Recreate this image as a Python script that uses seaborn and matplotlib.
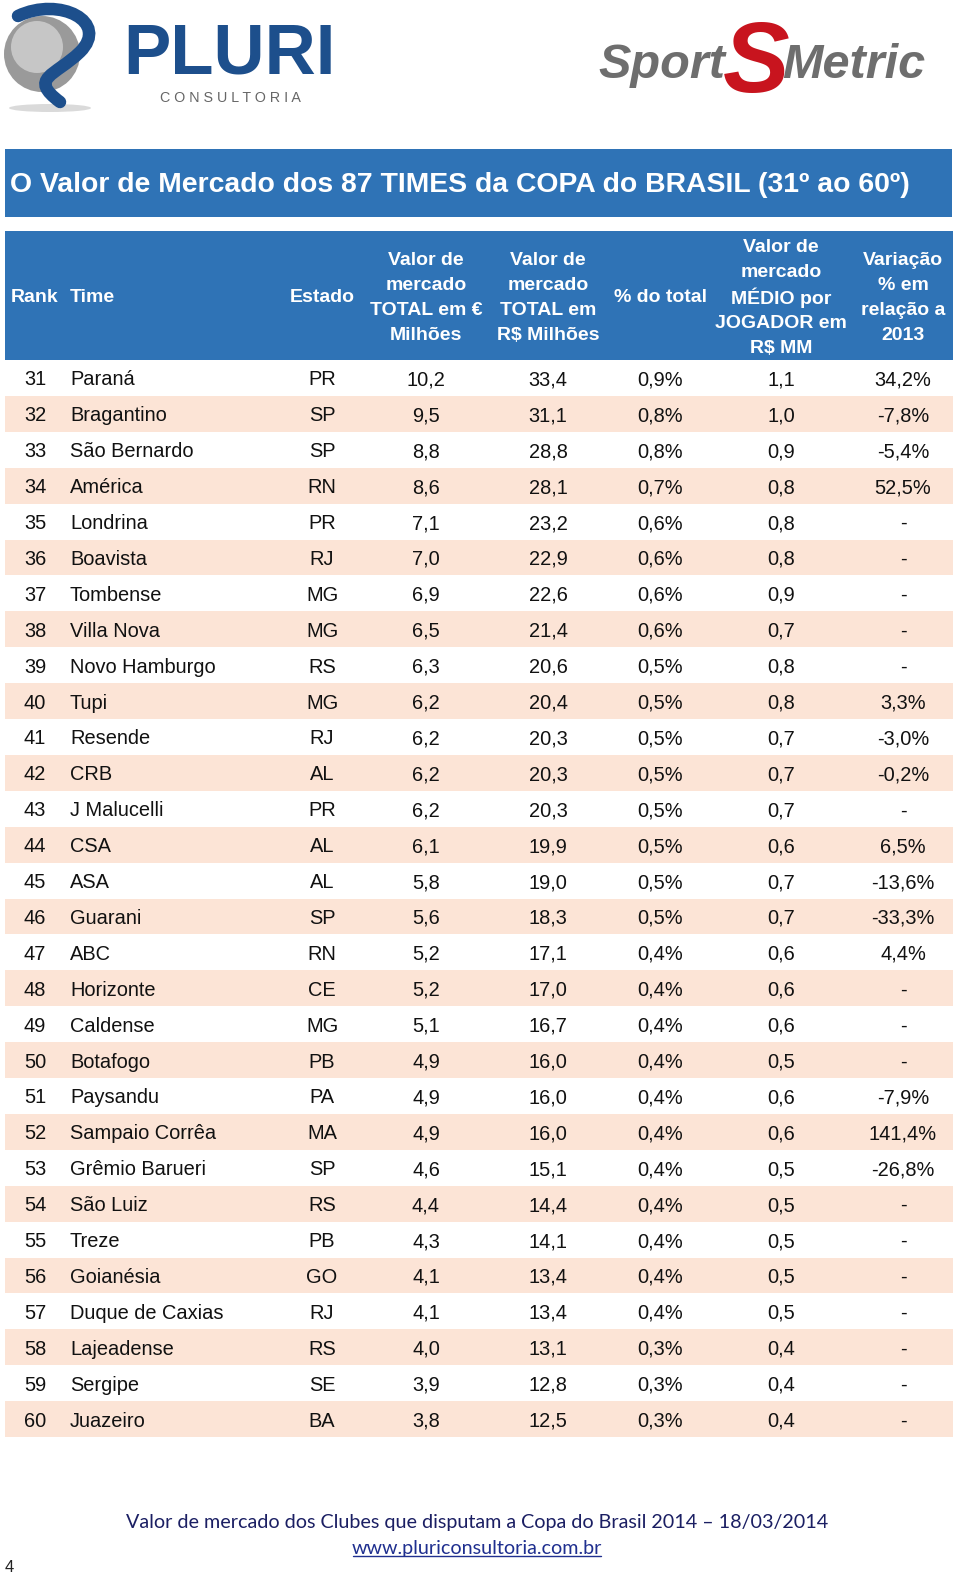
import numpy as np
import pandas as pd
import matplotlib
matplotlib.use("Agg")
import matplotlib.pyplot as plt
import matplotlib.transforms as mtransforms
from matplotlib.patches import Rectangle, Circle, Ellipse, PathPatch
from matplotlib.path import Path
from matplotlib.colors import ListedColormap
import seaborn as sns

# ---------------- data ----------------
ranks = list(range(31, 61))
teams = ["Paraná", "Bragantino", "São Bernardo", "América", "Londrina", "Boavista",
         "Tombense", "Villa Nova", "Novo Hamburgo", "Tupi", "Resende", "CRB",
         "J Malucelli", "CSA", "ASA", "Guarani", "ABC", "Horizonte", "Caldense",
         "Botafogo", "Paysandu", "Sampaio Corrêa", "Grêmio Barueri", "São Luiz",
         "Treze", "Goianésia", "Duque de Caxias", "Lajeadense", "Sergipe", "Juazeiro"]
states = ["PR", "SP", "SP", "RN", "PR", "RJ", "MG", "MG", "RS", "MG", "RJ", "AL",
          "PR", "AL", "AL", "SP", "RN", "CE", "MG", "PB", "PA", "MA", "SP", "RS",
          "PB", "GO", "RJ", "RS", "SE", "BA"]
value_eur = [10.2, 9.5, 8.8, 8.6, 7.1, 7.0, 6.9, 6.5, 6.3, 6.2, 6.2, 6.2, 6.2, 6.1,
             5.8, 5.6, 5.2, 5.2, 5.1, 4.9, 4.9, 4.9, 4.6, 4.4, 4.3, 4.1, 4.1, 4.0,
             3.9, 3.8]
value_brl = [33.4, 31.1, 28.8, 28.1, 23.2, 22.9, 22.6, 21.4, 20.6, 20.4, 20.3, 20.3,
             20.3, 19.9, 19.0, 18.3, 17.1, 17.0, 16.7, 16.0, 16.0, 16.0, 15.1, 14.4,
             14.1, 13.4, 13.4, 13.1, 12.8, 12.5]
pct_total = [0.9, 0.8, 0.8, 0.7, 0.6, 0.6, 0.6, 0.6, 0.5, 0.5, 0.5, 0.5, 0.5, 0.5,
             0.5, 0.5, 0.4, 0.4, 0.4, 0.4, 0.4, 0.4, 0.4, 0.4, 0.4, 0.4, 0.4, 0.3,
             0.3, 0.3]
avg_player = [1.1, 1.0, 0.9, 0.8, 0.8, 0.8, 0.9, 0.7, 0.8, 0.8, 0.7, 0.7, 0.7, 0.6,
              0.7, 0.7, 0.6, 0.6, 0.6, 0.5, 0.6, 0.6, 0.5, 0.5, 0.5, 0.5, 0.5, 0.4,
              0.4, 0.4]
var_2013 = [34.2, -7.8, -5.4, 52.5, None, None, None, None, None, 3.3, -3.0, -0.2,
            None, 6.5, -13.6, -33.3, 4.4, None, None, None, -7.9, 141.4, -26.8,
            None, None, None, None, None, None, None]

title = "O Valor de Mercado dos 87 TIMES da COPA do BRASIL (31º ao 60º)"
headers = [["Rank"], ["Time"], ["Estado"],
           ["Valor de", "mercado", "TOTAL em €", "Milhões"],
           ["Valor de", "mercado", "TOTAL em", "R$ Milhões"],
           ["% do total"],
           ["Valor de", "mercado", "MÉDIO por", "JOGADOR em", "R$ MM"],
           ["Variação", "% em", "relação a", "2013"]]
footer_line1 = "Valor de mercado dos Clubes que disputam a Copa do Brasil 2014 – 18/03/2014"
footer_line2 = "www.pluriconsultoria.com.br"
page_number = "4"

def fmt(v, pct=False):
    if v is None:
        return "-"
    s = f"{v:.1f}".replace(".", ",")
    return s + ("%" if pct else "")

df = pd.DataFrame({
    "Rank": [str(r) for r in ranks],
    "Time": teams,
    "Estado": states,
    "EUR": [fmt(v) for v in value_eur],
    "BRL": [fmt(v) for v in value_brl],
    "PCT": [fmt(v, True) for v in pct_total],
    "MED": [fmt(v) for v in avg_player],
    "VAR": [fmt(v, True) for v in var_2013],
})

# ---------------- style ----------------
sns.set_theme(style="white")
plt.rcParams["font.family"] = ["Liberation Sans", "DejaVu Sans"]

W, H = 960, 1577
fig = plt.figure(figsize=(W / 100, H / 100), dpi=100)
fig.patch.set_facecolor("white")

BLUE = "#2F73B6"
PEACH = "#FCE4D6"
NAVY = "#1B1F63"

x0, x1 = 5, 953
top_rows = 360
pitch = 35.9
n = len(ranks)
bottom_rows = top_rows + n * pitch

def fx(px):
    return px / W

def fy(py):
    return 1 - py / H

# --- table body via seaborn heatmap (alternating stripes) ---
ax_t = fig.add_axes([fx(x0), fy(bottom_rows), fx(x1 - x0), (bottom_rows - top_rows) / H])
stripe = np.array([[i % 2] for i in range(n)])
sns.heatmap(stripe, ax=ax_t, cmap=ListedColormap(["white", PEACH]), cbar=False,
            xticklabels=False, yticklabels=False, linewidths=0)
ax_t.set_axis_off()

trans = mtransforms.blended_transform_factory(fig.transFigure, ax_t.transData)

col_specs = [("Rank", 35, "center"), ("Time", 70, "left"), ("Estado", 322, "center"),
             ("EUR", 426, "center"), ("BRL", 548, "center"), ("PCT", 660, "center"),
             ("MED", 781, "center"), ("VAR", 903, "center")]
base_off = 7.5 / pitch
for i, row in df.iterrows():
    for col, xc, ha in col_specs:
        ax_t.text(fx(xc), i + 0.5 + base_off, row[col], transform=trans,
                  ha=ha, va="baseline", fontsize=14.4, color="#111111")

# ---------------- overlay axes in pixel coords ----------------
ov = fig.add_axes([0, 0, 1, 1], facecolor="none")
ov.set_xlim(0, W)
ov.set_ylim(H, 0)
ov.set_axis_off()

# title band
ov.add_patch(Rectangle((5, 149), 947, 68, facecolor=BLUE, edgecolor="none"))
ov.text(10, 192, title, ha="left", va="baseline", fontsize=20.4, fontweight="bold",
        color="white")

# header band
ov.add_patch(Rectangle((5, 231), 948, 129, facecolor=BLUE, edgecolor="none"))
hx = [35, 70, 322, 426, 548, 660, 781, 903]
hha = ["center", "left", "center", "center", "center", "center", "center", "center"]
hc = 296
lsp = 25.3
for lines, xc, ha in zip(headers, hx, hha):
    k = len(lines)
    for j, ln in enumerate(lines):
        yy = hc + (j - (k - 1) / 2) * lsp
        ov.text(xc, yy, ln, ha=ha, va="center_baseline", fontsize=14,
                fontweight="bold", color="white")

# ---------------- PLURI logo ----------------
ov.add_patch(Ellipse((50, 108), 82, 8, facecolor="#DADADA", edgecolor="none"))
ov.add_patch(Circle((42, 54), 38, facecolor="#9A9A9A", edgecolor="none"))
ov.add_patch(Circle((37, 47), 26, facecolor="#C6C6C6", edgecolor="none"))
swoosh = Path([(18, 16), (60, -4), (110, 22), (80, 52), (55, 76), (28, 78), (60, 102)],
              [Path.MOVETO, Path.CURVE4, Path.CURVE4, Path.CURVE4, Path.CURVE4,
               Path.CURVE4, Path.CURVE4])
ov.add_patch(PathPatch(swoosh, facecolor="none", edgecolor="#1D4F8C", lw=9,
                       capstyle="round"))
ov.text(123, 73, "PLURI", ha="left", va="baseline", fontsize=51, fontweight="bold",
        color="#1D4F8C")
ov.text(160, 102, " ".join("CONSULTORIA"), ha="left", va="baseline", fontsize=10.3,
        color="#666666")

# ---------------- SportMetric logo ----------------
ov.text(598, 78, "Sport", ha="left", va="baseline", fontsize=35, fontweight="bold",
        style="italic", color="#6E6E6E")
ov.text(723, 92, "S", ha="left", va="baseline", fontsize=72, fontweight="bold",
        style="italic", color="#C8141E")
ov.text(782, 78, "Metric", ha="left", va="baseline", fontsize=35, fontweight="bold",
        style="italic", color="#6E6E6E")

# ---------------- footer ----------------
ov.text(477, 1521, footer_line1, ha="center", va="center_baseline", fontsize=14.2,
        color=NAVY, family=["Lato", "DejaVu Sans"])
ov.text(477, 1547, footer_line2, ha="center", va="center_baseline", fontsize=14.2,
        color="#1F2F8F", family=["Lato", "DejaVu Sans"])
ov.plot([353, 601], [1556, 1556], color="#1F2F8F", lw=1)
ov.text(5, 1566, page_number, ha="left", va="center_baseline", fontsize=12,
        color="#222222")

fig.savefig("out.png", dpi=100)
